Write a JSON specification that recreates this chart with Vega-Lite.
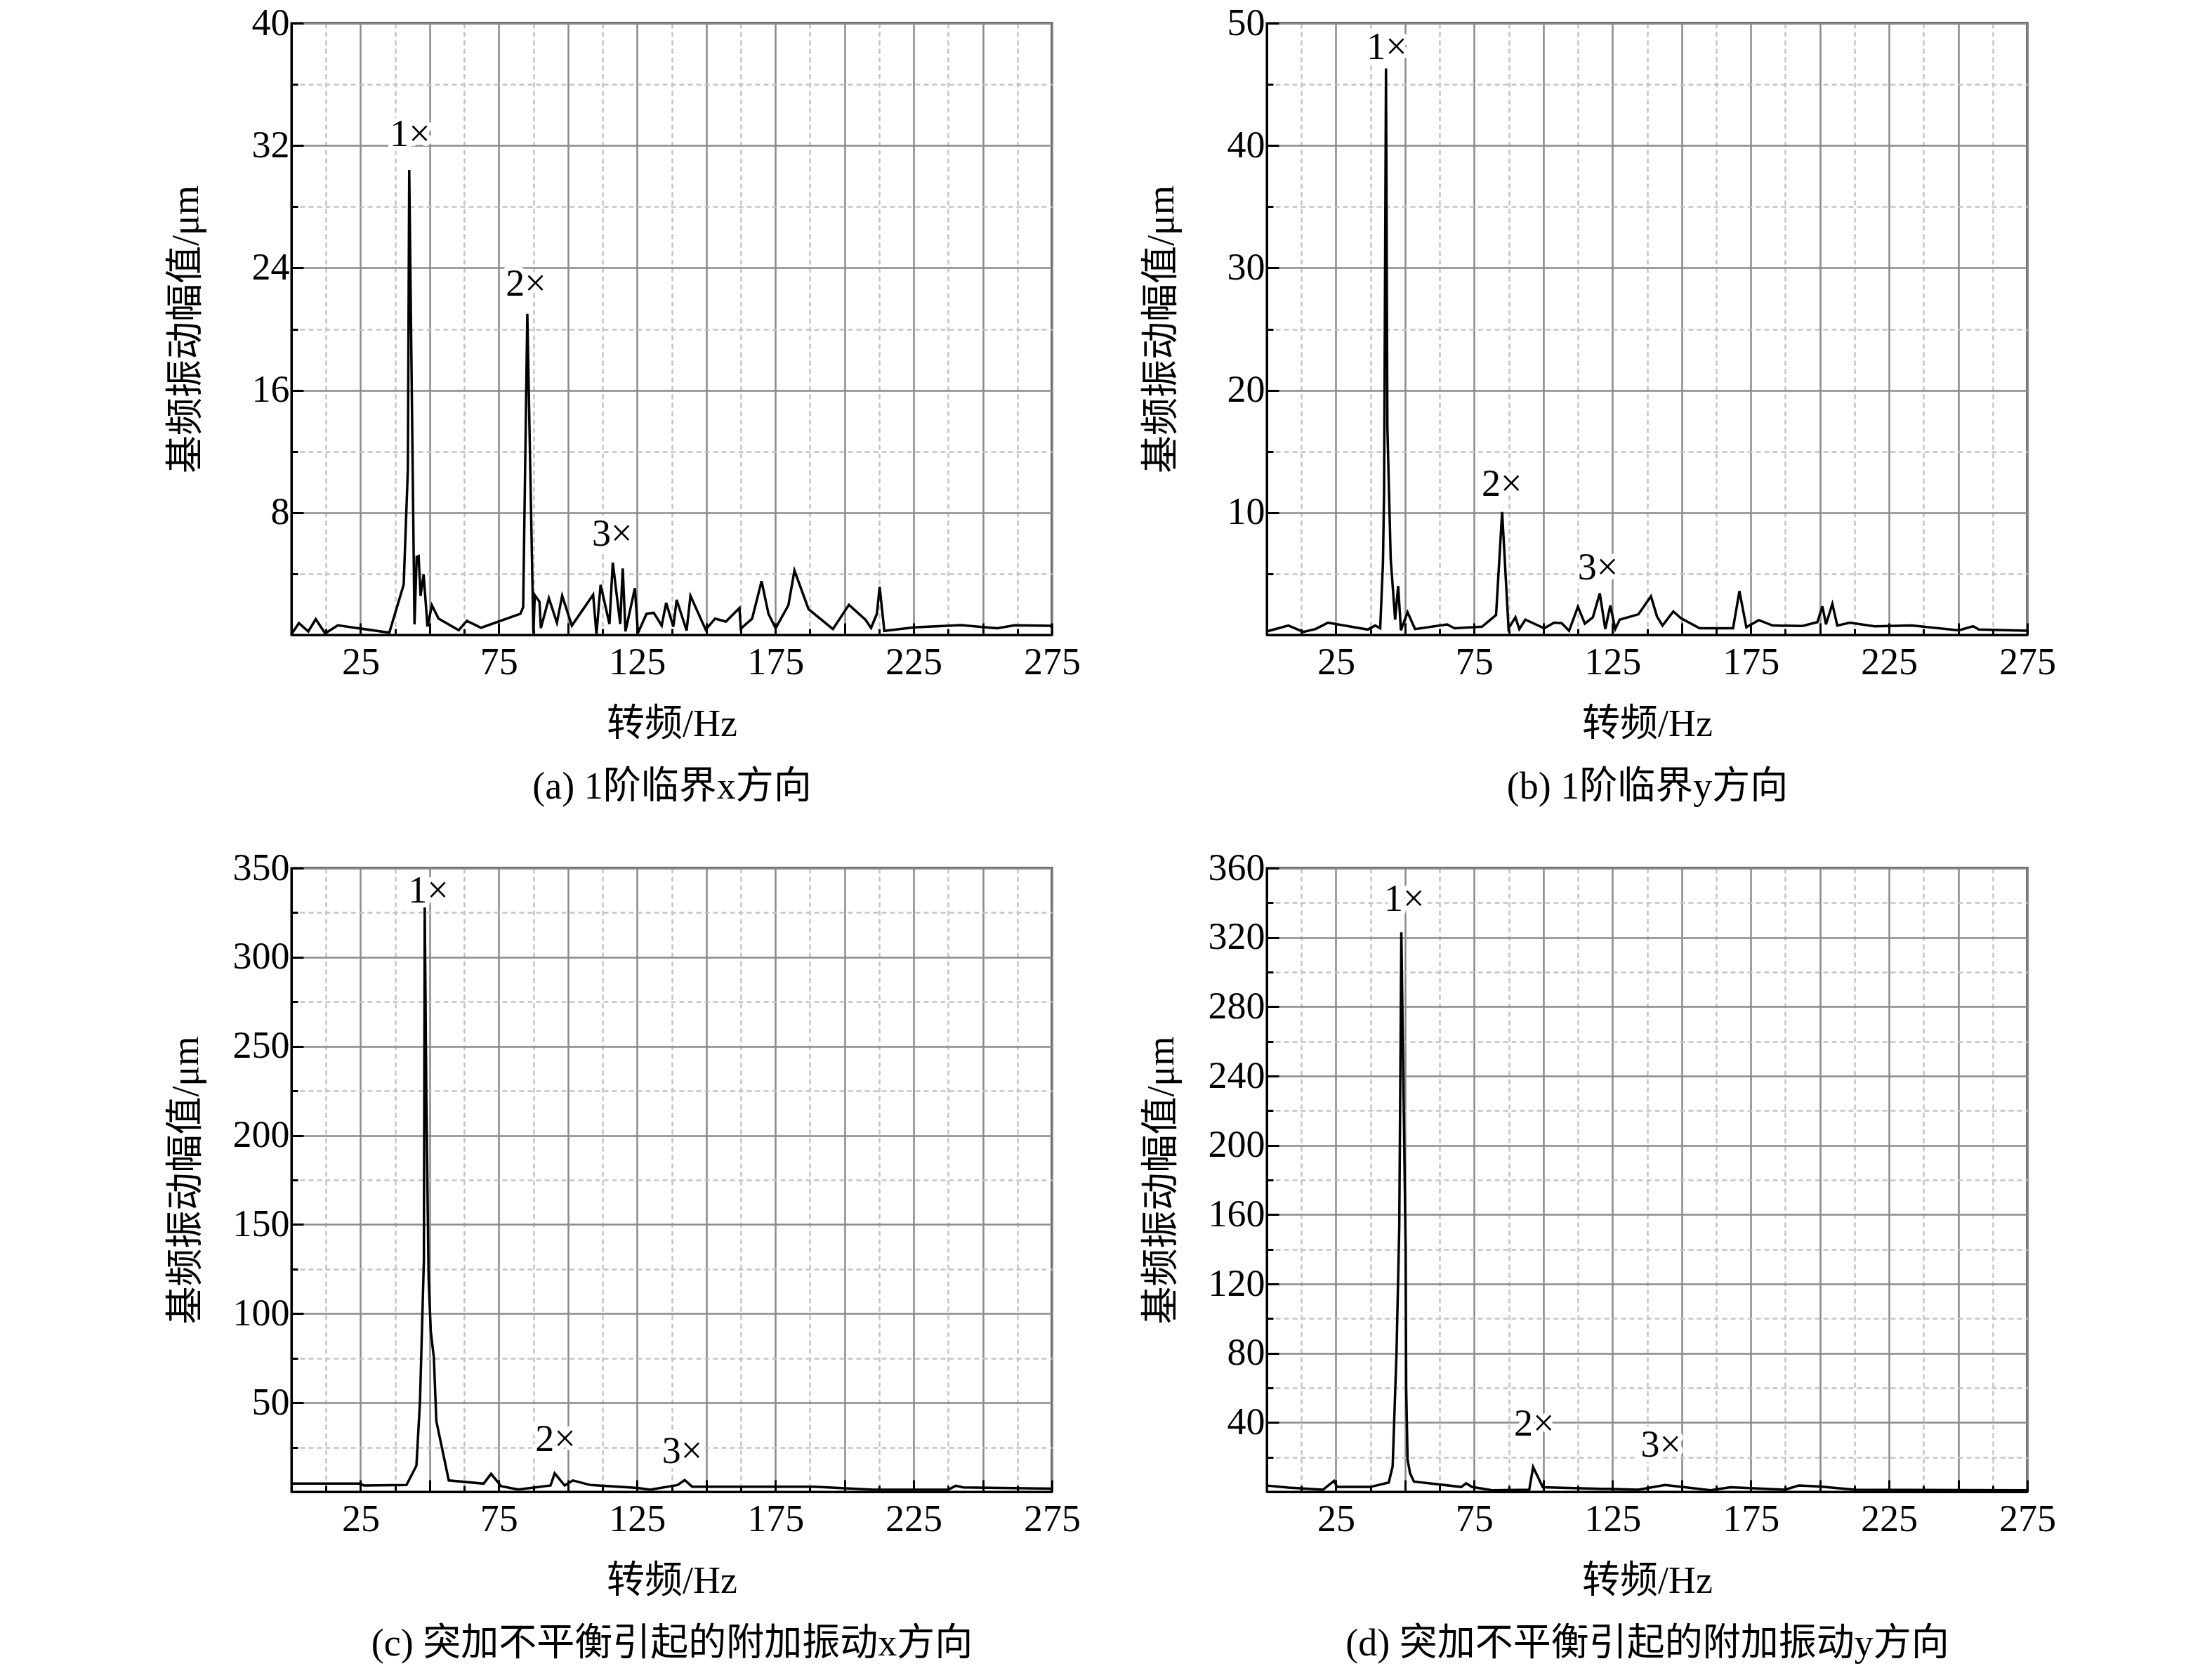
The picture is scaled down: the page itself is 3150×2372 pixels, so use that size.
{
  "$schema": "https://vega.github.io/schema/vega-lite/v6.json",
  "background": "white",
  "padding": {"left": 236, "top": 4, "right": 10, "bottom": 4},
  "columns": 2,
  "spacing": {"row": 58, "column": 85},
  "datasets": {
    "a": [
      {"f": 0, "v": 0.05}, {"f": 2.7, "v": 0.77}, {"f": 6.1, "v": 0.23}, {"f": 8.8, "v": 1.03}, {"f": 12.2, "v": 0.1},
      {"f": 16.8, "v": 0.63}, {"f": 35.4, "v": 0.15}, {"f": 40.6, "v": 3.3}, {"f": 42.1, "v": 10.8}, {"f": 42.6, "v": 30.4},
      {"f": 44.5, "v": 0.69}, {"f": 45.3, "v": 5.1}, {"f": 46.0, "v": 5.15}, {"f": 46.7, "v": 2.55}, {"f": 47.8, "v": 3.97},
      {"f": 49.2, "v": 0.54}, {"f": 50.8, "v": 1.94}, {"f": 53.2, "v": 1.07}, {"f": 60.5, "v": 0.31}, {"f": 63.4, "v": 0.92},
      {"f": 68.6, "v": 0.47}, {"f": 82.8, "v": 1.38}, {"f": 83.8, "v": 1.82}, {"f": 85.3, "v": 21.0}, {"f": 87.5, "v": 0.1},
      {"f": 88.0, "v": 2.6}, {"f": 89.7, "v": 2.17}, {"f": 90.2, "v": 0.44}, {"f": 93.1, "v": 2.4}, {"f": 96.0, "v": 0.8},
      {"f": 97.9, "v": 2.56}, {"f": 101.4, "v": 0.61}, {"f": 109.1, "v": 2.63}, {"f": 110.3, "v": 0.06}, {"f": 111.8, "v": 3.28},
      {"f": 115.0, "v": 0.72}, {"f": 116.2, "v": 4.73}, {"f": 118.9, "v": 0.72}, {"f": 119.8, "v": 4.35}, {"f": 120.8, "v": 0.23},
      {"f": 124.2, "v": 3.06}, {"f": 125.3, "v": 0.12}, {"f": 128.4, "v": 1.38}, {"f": 131.0, "v": 1.45}, {"f": 133.9, "v": 0.61},
      {"f": 135.5, "v": 2.1}, {"f": 138.1, "v": 0.54}, {"f": 139.3, "v": 2.3}, {"f": 142.9, "v": 0.29}, {"f": 144.3, "v": 2.56},
      {"f": 149.8, "v": 0.34}, {"f": 153.2, "v": 1.07}, {"f": 157.1, "v": 0.87}, {"f": 162.0, "v": 1.76}, {"f": 162.5, "v": 0.41},
      {"f": 166.6, "v": 1.07}, {"f": 170.0, "v": 3.52}, {"f": 172.5, "v": 1.38}, {"f": 175.1, "v": 0.44}, {"f": 179.7, "v": 1.94},
      {"f": 181.9, "v": 4.21}, {"f": 187.0, "v": 1.68}, {"f": 195.8, "v": 0.38}, {"f": 201.6, "v": 1.97}, {"f": 207.6, "v": 0.99},
      {"f": 209.6, "v": 0.46}, {"f": 211.7, "v": 1.38}, {"f": 212.7, "v": 3.14}, {"f": 214.4, "v": 0.26}, {"f": 225.1, "v": 0.49},
      {"f": 242.1, "v": 0.64}, {"f": 249.9, "v": 0.52}, {"f": 255.2, "v": 0.44}, {"f": 261.5, "v": 0.63}, {"f": 274.6, "v": 0.6},
      {"f": 275, "v": 0.49}
    ],
    "b": [
      {"f": 0, "v": 0.29}, {"f": 7.8, "v": 0.77}, {"f": 13.2, "v": 0.25}, {"f": 17.6, "v": 0.48}, {"f": 22.1, "v": 1.0},
      {"f": 36.5, "v": 0.44}, {"f": 39.2, "v": 0.77}, {"f": 41.0, "v": 0.54}, {"f": 42.0, "v": 5.9}, {"f": 42.4, "v": 11.6},
      {"f": 43.1, "v": 46.3}, {"f": 43.6, "v": 17}, {"f": 44.8, "v": 6.2}, {"f": 46.4, "v": 1.25}, {"f": 47.5, "v": 4.0},
      {"f": 48.5, "v": 0.38}, {"f": 50.9, "v": 1.86}, {"f": 53.6, "v": 0.48}, {"f": 65.2, "v": 0.86}, {"f": 67.9, "v": 0.54},
      {"f": 77.8, "v": 0.67}, {"f": 82.9, "v": 1.63}, {"f": 85.1, "v": 10.06}, {"f": 87.4, "v": 0.54}, {"f": 89.9, "v": 1.44},
      {"f": 91.3, "v": 0.48}, {"f": 93.5, "v": 1.25}, {"f": 100.3, "v": 0.54}, {"f": 103.9, "v": 1.0}, {"f": 106.6, "v": 0.96},
      {"f": 109.3, "v": 0.34}, {"f": 112.5, "v": 2.3}, {"f": 115.0, "v": 0.92}, {"f": 117.9, "v": 1.44}, {"f": 120.4, "v": 3.4},
      {"f": 122.4, "v": 0.48}, {"f": 124.2, "v": 2.4}, {"f": 126.0, "v": 0.48}, {"f": 127.6, "v": 1.25}, {"f": 134.4, "v": 1.69},
      {"f": 138.9, "v": 3.16}, {"f": 141.1, "v": 1.5}, {"f": 143.1, "v": 0.77}, {"f": 147.0, "v": 1.92}, {"f": 149.7, "v": 1.38},
      {"f": 156.5, "v": 0.54}, {"f": 168.6, "v": 0.54}, {"f": 170.9, "v": 3.58}, {"f": 173.4, "v": 0.63}, {"f": 177.9, "v": 1.21},
      {"f": 182.9, "v": 0.77}, {"f": 193.7, "v": 0.73}, {"f": 199.1, "v": 1.05}, {"f": 200.9, "v": 2.34}, {"f": 202.2, "v": 0.86},
      {"f": 204.5, "v": 2.53}, {"f": 206.3, "v": 0.77}, {"f": 210.8, "v": 1.0}, {"f": 219.8, "v": 0.71}, {"f": 233.2, "v": 0.77},
      {"f": 250.3, "v": 0.38}, {"f": 255.4, "v": 0.71}, {"f": 257.5, "v": 0.44}, {"f": 275, "v": 0.34}
    ],
    "c": [
      {"f": 0, "v": 4.6}, {"f": 24.5, "v": 4.6}, {"f": 26.3, "v": 3.55}, {"f": 41.6, "v": 3.8}, {"f": 45.2, "v": 14.7},
      {"f": 46.5, "v": 51}, {"f": 47.9, "v": 130}, {"f": 48.2, "v": 329}, {"f": 48.8, "v": 220}, {"f": 49.6, "v": 120},
      {"f": 50.4, "v": 90}, {"f": 51.5, "v": 75.5}, {"f": 52.4, "v": 39.7}, {"f": 56.9, "v": 6.4}, {"f": 69.5, "v": 4.6},
      {"f": 72.2, "v": 10.1}, {"f": 75.8, "v": 3.2}, {"f": 82.0, "v": 1.3}, {"f": 93.7, "v": 3.55}, {"f": 95.2, "v": 10.4},
      {"f": 98.8, "v": 3.55}, {"f": 101.8, "v": 6.4}, {"f": 108.1, "v": 3.8}, {"f": 125.2, "v": 2.2}, {"f": 129.7, "v": 1.2},
      {"f": 139.6, "v": 3.8}, {"f": 142.2, "v": 6.6}, {"f": 144.9, "v": 2.9}, {"f": 189.0, "v": 2.9}, {"f": 210.5, "v": 1.2},
      {"f": 237.5, "v": 1.2}, {"f": 240.2, "v": 3.4}, {"f": 242.9, "v": 2.5}, {"f": 275, "v": 1.8}
    ],
    "d": [
      {"f": 0, "v": 3.6}, {"f": 7.8, "v": 2.4}, {"f": 20.3, "v": 1.2}, {"f": 24.3, "v": 6.3}, {"f": 25.4, "v": 2.8},
      {"f": 37.4, "v": 2.8}, {"f": 44.1, "v": 5.4}, {"f": 45.5, "v": 14.7}, {"f": 46.9, "v": 80}, {"f": 47.9, "v": 153},
      {"f": 48.65, "v": 323}, {"f": 49.7, "v": 200}, {"f": 50.2, "v": 140}, {"f": 50.4, "v": 60}, {"f": 50.9, "v": 18.7},
      {"f": 51.8, "v": 10.7}, {"f": 53.2, "v": 5.9}, {"f": 70.3, "v": 2.8}, {"f": 72.1, "v": 4.9}, {"f": 74.2, "v": 2.8},
      {"f": 81.4, "v": 0.9}, {"f": 94.9, "v": 1.2}, {"f": 96.3, "v": 14.3}, {"f": 99.8, "v": 2.6}, {"f": 134.4, "v": 1.2},
      {"f": 144.0, "v": 3.9}, {"f": 160.5, "v": 0.9}, {"f": 167.7, "v": 2.6}, {"f": 187.4, "v": 1.2}, {"f": 192.3, "v": 3.6},
      {"f": 200.0, "v": 3.0}, {"f": 212.6, "v": 1.2}, {"f": 275, "v": 0.9}
    ],
    "la": [
      {"f": 42.9, "v": 32.7, "t": "1×"}, {"f": 84.8, "v": 22.9, "t": "2×"}, {"f": 116.0, "v": 6.55, "t": "3×"}
    ],
    "lb": [
      {"f": 43.4, "v": 48.0, "t": "1×"}, {"f": 85.0, "v": 12.26, "t": "2×"}, {"f": 119.7, "v": 5.46, "t": "3×"}
    ],
    "lc": [
      {"f": 49.5, "v": 337, "t": "1×"}, {"f": 95.5, "v": 29.2, "t": "2×"}, {"f": 141.3, "v": 22.4, "t": "3×"}
    ],
    "ld": [
      {"f": 49.7, "v": 341.7, "t": "1×"}, {"f": 96.7, "v": 39, "t": "2×"}, {"f": 142.5, "v": 26.8, "t": "3×"}
    ]
  },
  "concat": [
    {
      "width": 1083,
      "height": 871,
      "layer": [
        {
          "data": {"name": "a"},
          "mark": {"type": "line", "color": "black", "strokeWidth": 3.5},
          "encoding": {
            "x": {
              "field": "f", "type": "quantitative",
              "scale": {"domain": [0, 275], "nice": false, "zero": false},
              "axis": {
                "values": [0, 12.5, 25, 37.5, 50, 62.5, 75, 87.5, 100, 112.5, 125, 137.5, 150, 162.5, 175, 187.5, 200, 212.5, 225, 237.5, 250, 262.5, 275],
                "labelExpr": "(datum.value - 25) % 50 === 0 ? datum.label : ''",
                "tickSize": {"condition": {"test": "datum.value % 25 === 0", "value": -17}, "value": -9},
                "gridColor": {"condition": {"test": "datum.value % 25 === 0", "value": "#8a8a8a"}, "value": "#c4c4c4"},
                "gridDash": {"condition": {"test": "datum.value % 25 === 0", "value": []}, "value": [7, 5]},
                "title": ["转频/Hz", "(a) 1阶临界x方向"]
              }
            },
            "y": {
              "field": "v", "type": "quantitative",
              "scale": {"domain": [0, 40], "nice": false},
              "axis": {
                "values": [0, 4, 8, 12, 16, 20, 24, 28, 32, 36, 40],
                "labelExpr": "datum.value > 0 && datum.value % 8 === 0 ? datum.label : ''",
                "tickSize": {"condition": {"test": "datum.value % 8 === 0", "value": -17}, "value": -9},
                "gridColor": {"condition": {"test": "datum.value % 8 === 0", "value": "#8a8a8a"}, "value": "#c4c4c4"},
                "gridDash": {"condition": {"test": "datum.value % 8 === 0", "value": []}, "value": [7, 5]},
                "title": "基频振动幅值/μm"
              }
            }
          }
        },
        {
          "data": {"name": "la"},
          "mark": {"type": "text", "fill": "white", "stroke": "white", "strokeWidth": 14, "strokeJoin": "round", "fontSize": 54},
          "encoding": {"x": {"field": "f", "type": "quantitative"}, "y": {"field": "v", "type": "quantitative"}, "text": {"field": "t"}}
        },
        {
          "data": {"name": "la"},
          "mark": {"type": "text", "color": "black", "fontSize": 54},
          "encoding": {"x": {"field": "f", "type": "quantitative"}, "y": {"field": "v", "type": "quantitative"}, "text": {"field": "t"}}
        }
      ]
    },
    {
      "width": 1083,
      "height": 871,
      "layer": [
        {
          "data": {"name": "b"},
          "mark": {"type": "line", "color": "black", "strokeWidth": 3.5},
          "encoding": {
            "x": {
              "field": "f", "type": "quantitative",
              "scale": {"domain": [0, 275], "nice": false, "zero": false},
              "axis": {
                "values": [0, 12.5, 25, 37.5, 50, 62.5, 75, 87.5, 100, 112.5, 125, 137.5, 150, 162.5, 175, 187.5, 200, 212.5, 225, 237.5, 250, 262.5, 275],
                "labelExpr": "(datum.value - 25) % 50 === 0 ? datum.label : ''",
                "tickSize": {"condition": {"test": "datum.value % 25 === 0", "value": -17}, "value": -9},
                "gridColor": {"condition": {"test": "datum.value % 25 === 0", "value": "#8a8a8a"}, "value": "#c4c4c4"},
                "gridDash": {"condition": {"test": "datum.value % 25 === 0", "value": []}, "value": [7, 5]},
                "title": ["转频/Hz", "(b) 1阶临界y方向"]
              }
            },
            "y": {
              "field": "v", "type": "quantitative",
              "scale": {"domain": [0, 50], "nice": false},
              "axis": {
                "values": [0, 5, 10, 15, 20, 25, 30, 35, 40, 45, 50],
                "labelExpr": "datum.value > 0 && datum.value % 10 === 0 ? datum.label : ''",
                "tickSize": {"condition": {"test": "datum.value % 10 === 0", "value": -17}, "value": -9},
                "gridColor": {"condition": {"test": "datum.value % 10 === 0", "value": "#8a8a8a"}, "value": "#c4c4c4"},
                "gridDash": {"condition": {"test": "datum.value % 10 === 0", "value": []}, "value": [7, 5]},
                "title": "基频振动幅值/μm"
              }
            }
          }
        },
        {
          "data": {"name": "lb"},
          "mark": {"type": "text", "fill": "white", "stroke": "white", "strokeWidth": 14, "strokeJoin": "round", "fontSize": 54},
          "encoding": {"x": {"field": "f", "type": "quantitative"}, "y": {"field": "v", "type": "quantitative"}, "text": {"field": "t"}}
        },
        {
          "data": {"name": "lb"},
          "mark": {"type": "text", "color": "black", "fontSize": 54},
          "encoding": {"x": {"field": "f", "type": "quantitative"}, "y": {"field": "v", "type": "quantitative"}, "text": {"field": "t"}}
        }
      ]
    },
    {
      "width": 1083,
      "height": 888,
      "layer": [
        {
          "data": {"name": "c"},
          "mark": {"type": "line", "color": "black", "strokeWidth": 3.5},
          "encoding": {
            "x": {
              "field": "f", "type": "quantitative",
              "scale": {"domain": [0, 275], "nice": false, "zero": false},
              "axis": {
                "values": [0, 12.5, 25, 37.5, 50, 62.5, 75, 87.5, 100, 112.5, 125, 137.5, 150, 162.5, 175, 187.5, 200, 212.5, 225, 237.5, 250, 262.5, 275],
                "labelExpr": "(datum.value - 25) % 50 === 0 ? datum.label : ''",
                "tickSize": {"condition": {"test": "datum.value % 25 === 0", "value": -17}, "value": -9},
                "gridColor": {"condition": {"test": "datum.value % 25 === 0", "value": "#8a8a8a"}, "value": "#c4c4c4"},
                "gridDash": {"condition": {"test": "datum.value % 25 === 0", "value": []}, "value": [7, 5]},
                "title": ["转频/Hz", "(c) 突加不平衡引起的附加振动x方向"]
              }
            },
            "y": {
              "field": "v", "type": "quantitative",
              "scale": {"domain": [0, 350], "nice": false},
              "axis": {
                "values": [0, 25, 50, 75, 100, 125, 150, 175, 200, 225, 250, 275, 300, 325, 350],
                "labelExpr": "datum.value > 0 && datum.value % 50 === 0 ? datum.label : ''",
                "tickSize": {"condition": {"test": "datum.value % 50 === 0", "value": -17}, "value": -9},
                "gridColor": {"condition": {"test": "datum.value % 50 === 0", "value": "#8a8a8a"}, "value": "#c4c4c4"},
                "gridDash": {"condition": {"test": "datum.value % 50 === 0", "value": []}, "value": [7, 5]},
                "title": "基频振动幅值/μm"
              }
            }
          }
        },
        {
          "data": {"name": "lc"},
          "mark": {"type": "text", "fill": "white", "stroke": "white", "strokeWidth": 14, "strokeJoin": "round", "fontSize": 54},
          "encoding": {"x": {"field": "f", "type": "quantitative"}, "y": {"field": "v", "type": "quantitative"}, "text": {"field": "t"}}
        },
        {
          "data": {"name": "lc"},
          "mark": {"type": "text", "color": "black", "fontSize": 54},
          "encoding": {"x": {"field": "f", "type": "quantitative"}, "y": {"field": "v", "type": "quantitative"}, "text": {"field": "t"}}
        }
      ]
    },
    {
      "width": 1083,
      "height": 888,
      "layer": [
        {
          "data": {"name": "d"},
          "mark": {"type": "line", "color": "black", "strokeWidth": 3.5},
          "encoding": {
            "x": {
              "field": "f", "type": "quantitative",
              "scale": {"domain": [0, 275], "nice": false, "zero": false},
              "axis": {
                "values": [0, 12.5, 25, 37.5, 50, 62.5, 75, 87.5, 100, 112.5, 125, 137.5, 150, 162.5, 175, 187.5, 200, 212.5, 225, 237.5, 250, 262.5, 275],
                "labelExpr": "(datum.value - 25) % 50 === 0 ? datum.label : ''",
                "tickSize": {"condition": {"test": "datum.value % 25 === 0", "value": -17}, "value": -9},
                "gridColor": {"condition": {"test": "datum.value % 25 === 0", "value": "#8a8a8a"}, "value": "#c4c4c4"},
                "gridDash": {"condition": {"test": "datum.value % 25 === 0", "value": []}, "value": [7, 5]},
                "title": ["转频/Hz", "(d) 突加不平衡引起的附加振动y方向"]
              }
            },
            "y": {
              "field": "v", "type": "quantitative",
              "scale": {"domain": [0, 360], "nice": false},
              "axis": {
                "values": [0, 20, 40, 60, 80, 100, 120, 140, 160, 180, 200, 220, 240, 260, 280, 300, 320, 340, 360],
                "labelExpr": "datum.value > 0 && datum.value % 40 === 0 ? datum.label : ''",
                "tickSize": {"condition": {"test": "datum.value % 40 === 0", "value": -17}, "value": -9},
                "gridColor": {"condition": {"test": "datum.value % 40 === 0", "value": "#8a8a8a"}, "value": "#c4c4c4"},
                "gridDash": {"condition": {"test": "datum.value % 40 === 0", "value": []}, "value": [7, 5]},
                "title": "基频振动幅值/μm"
              }
            }
          }
        },
        {
          "data": {"name": "ld"},
          "mark": {"type": "text", "fill": "white", "stroke": "white", "strokeWidth": 14, "strokeJoin": "round", "fontSize": 54},
          "encoding": {"x": {"field": "f", "type": "quantitative"}, "y": {"field": "v", "type": "quantitative"}, "text": {"field": "t"}}
        },
        {
          "data": {"name": "ld"},
          "mark": {"type": "text", "color": "black", "fontSize": 54},
          "encoding": {"x": {"field": "f", "type": "quantitative"}, "y": {"field": "v", "type": "quantitative"}, "text": {"field": "t"}}
        }
      ]
    }
  ],
  "config": {
    "font": "Liberation Serif",
    "view": {"stroke": "black", "strokeWidth": 3},
    "text": {"font": "Liberation Serif", "baseline": "middle", "align": "center"},
    "axis": {
      "grid": true,
      "gridWidth": 2.5,
      "domainColor": "black",
      "domainWidth": 3,
      "tickColor": "black",
      "tickWidth": 3,
      "labelFont": "Liberation Serif",
      "labelFontSize": 54,
      "labelColor": "black",
      "labelOverlap": false,
      "labelFlush": false,
      "titleFont": "Liberation Serif, Noto Sans CJK SC",
      "titleFontSize": 54,
      "titleFontWeight": "normal",
      "titleColor": "black"
    },
    "axisX": {
      "labelPadding": 29,
      "titlePadding": 26,
      "titleLineHeight": 89
    },
    "axisY": {
      "labelPadding": 20,
      "minExtent": 110,
      "maxExtent": 110,
      "titlePadding": 13
    }
  }
}
